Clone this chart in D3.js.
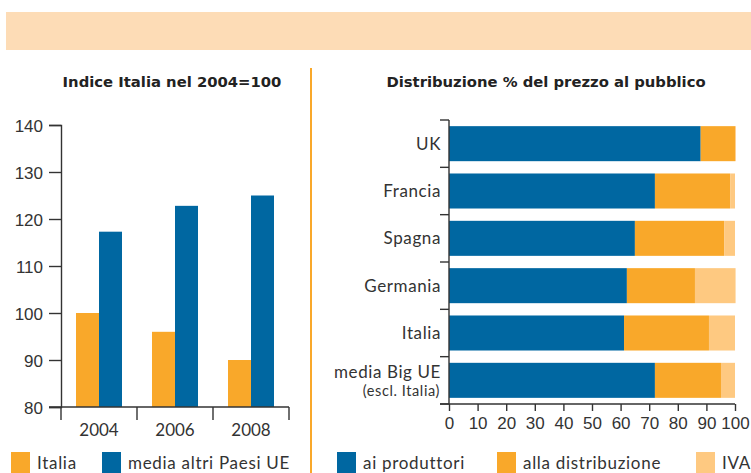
<!DOCTYPE html>
<html>
<head>
<meta charset="utf-8">
<script src="https://cdn.jsdelivr.net/npm/d3@7"></script>
<style>
  body { margin: 0; background: #fff; }
  svg { display: block; font-family: Lato, "DejaVu Sans", sans-serif; }
  .axis path, .axis line { stroke: #333; stroke-width: 1.4; }
  .axis text { fill: #333; font-size: 17px; }
  .axis text.cat { letter-spacing: 0.6px; }
  .title { font-family: "DejaVu Sans", sans-serif; font-weight: bold; font-size: 14.8px; fill: #222; text-anchor: middle; }
  .legend text { font-size: 17px; fill: #333; letter-spacing: 0.7px; }
</style>
</head>
<body>
<div id="chart"></div>
<script>
// left panel: index Italy 2004 = 100
const years = ["2004", "2006", "2008"];
const italia = [100, 96, 90];
const altriUE = [117.3, 122.8, 125];
const leftTicks = [80, 90, 100, 110, 120, 130, 140];

// right panel: price breakdown
const countries = ["UK", "Francia", "Spagna", "Germania", "Italia", "media Big UE"];
const produttori = [88, 72, 65, 62.2, 61.2, 72];
const distribuzione = [12, 26.3, 31.2, 23.8, 29.7, 23.1];
const iva = [0.3, 1.7, 3.8, 14.2, 9.1, 4.9];
const pctTicks = [0, 10, 20, 30, 40, 50, 60, 70, 80, 90, 100];

const blue = "#0067a1", orange = "#f9a82a", light = "#fec981";

const W = 751, H = 473;
const svg = d3.select("#chart").append("svg")
  .attr("width", W)
  .attr("height", H);

// header band and divider
svg.append("rect").attr("x", 6).attr("y", 12).attr("width", W - 6).attr("height", 38)
  .attr("fill", "#fddcb6");
svg.append("line").attr("x1", 311).attr("x2", 311).attr("y1", 68).attr("y2", H)
  .attr("stroke", "#f9a82a").attr("stroke-width", 2);

// ---------- left chart ----------
svg.append("text").attr("class", "title").attr("x", 172).attr("y", 87)
  .text("Indice Italia nel 2004=100");

const xL = d3.scaleBand().domain(years).range([61, 289]);
const yL = d3.scaleLinear().domain([80, 140]).range([407, 125]);
const inner = d3.scaleBand().domain(["it", "ue"]).range([0, 46]);

const left = svg.append("g");

const groups = left.selectAll(".yr")
  .data(years)
  .enter().append("g")
  .attr("transform", d => `translate(${xL(d) + xL.bandwidth() / 2 - 23},0)`);

groups.append("rect")
  .attr("x", inner("it"))
  .attr("width", inner.bandwidth())
  .attr("y", (d, i) => yL(italia[i]))
  .attr("height", (d, i) => yL(80) - yL(italia[i]))
  .attr("fill", orange);

groups.append("rect")
  .attr("x", inner("ue"))
  .attr("width", inner.bandwidth())
  .attr("y", (d, i) => yL(altriUE[i]))
  .attr("height", (d, i) => yL(80) - yL(altriUE[i]))
  .attr("fill", blue);

left.append("g").attr("class", "axis")
  .attr("transform", "translate(61,0)")
  .call(d3.axisLeft(yL).tickValues(leftTicks).tickSize(12).tickPadding(6))
  .call(g => g.selectAll("text").attr("dy", "0.36em"));

// bottom axis with ticks at band edges
const xAx = left.append("g").attr("class", "axis");
xAx.append("line").attr("x1", 49).attr("x2", xL.range()[1]).attr("y1", yL(80)).attr("y2", yL(80));
xAx.selectAll(".edge")
  .data([years[0]].concat(years))
  .enter().append("line")
  .attr("x1", (d, i) => i === 0 ? xL(d) : xL(d) + xL.bandwidth())
  .attr("x2", (d, i) => i === 0 ? xL(d) : xL(d) + xL.bandwidth())
  .attr("y1", yL(80)).attr("y2", yL(80) + 13);
xAx.selectAll(".lbl")
  .data(years)
  .enter().append("text")
  .attr("x", d => xL(d) + xL.bandwidth() / 2)
  .attr("y", yL(80) + 29)
  .attr("text-anchor", "middle")
  .text(d => d);

const legL = svg.append("g").attr("class", "legend");
[["Italia", orange, 11], ["media altri Paesi UE", blue, 102]].forEach(([t, c, x]) => {
  legL.append("rect").attr("x", x).attr("y", 452).attr("width", 19).attr("height", 21).attr("fill", c);
  legL.append("text").attr("x", x + 26).attr("y", 469).text(t);
});

// ---------- right chart ----------
svg.append("text").attr("class", "title").attr("x", 546).attr("y", 87)
  .text("Distribuzione % del prezzo al pubblico");

const xR = d3.scaleLinear().domain([0, 100]).range([449, 735]);
const yR = d3.scaleBand().domain(countries).range([120, 404]).paddingInner(0.26).paddingOuter(0.13);

const rows = countries.map((c, i) => ({ c, parts: [
  { k: "p", v0: 0, v1: produttori[i], col: blue },
  { k: "d", v0: produttori[i], v1: produttori[i] + distribuzione[i], col: orange },
  { k: "i", v0: produttori[i] + distribuzione[i], v1: produttori[i] + distribuzione[i] + iva[i], col: light }
]}));

const right = svg.append("g");
right.selectAll(".row")
  .data(rows)
  .enter().append("g")
  .selectAll("rect")
  .data(d => d.parts.map(p => Object.assign({ c: d.c }, p)))
  .enter().append("rect")
  .attr("x", d => xR(d.v0))
  .attr("width", d => xR(d.v1) - xR(d.v0))
  .attr("y", d => yR(d.c))
  .attr("height", yR.bandwidth())
  .attr("fill", d => d.col);

// y axis: ticks between categories
const yAx = right.append("g").attr("class", "axis");
const edges = d3.range(countries.length + 1).map(i => 120 + i * (404 - 120) / countries.length);
yAx.append("line").attr("x1", 449).attr("x2", 449).attr("y1", 120).attr("y2", 404);
yAx.selectAll(".edge")
  .data(edges)
  .enter().append("line")
  .attr("x1", 440).attr("x2", 449)
  .attr("y1", d => d).attr("y2", d => d);
yAx.selectAll(".lbl")
  .data(countries.slice(0, 5))
  .enter().append("text")
  .attr("class", "cat")
  .attr("x", 441)
  .attr("y", d => yR(d) + yR.bandwidth() / 2)
  .attr("dy", "0.36em")
  .attr("text-anchor", "end")
  .text(d => d);
const lastY = yR("media Big UE") + yR.bandwidth() / 2;
yAx.append("text").attr("class", "cat").attr("x", 441).attr("y", lastY - 2).attr("text-anchor", "end").text("media Big UE");
yAx.append("text").attr("class", "cat").attr("x", 440).attr("y", lastY + 16).attr("text-anchor", "end")
  .style("font-size", "14.5px").text("(escl. Italia)");

right.append("g").attr("class", "axis")
  .attr("transform", "translate(0,404)")
  .call(d3.axisBottom(xR).tickValues(pctTicks).tickSize(7).tickSizeOuter(0).tickPadding(6))
  .call(g => g.select(".domain").attr("d", "M440,0H735"));

const legR = svg.append("g").attr("class", "legend");
[["ai produttori", blue, 337], ["alla distribuzione", orange, 497], ["IVA", light, 696]].forEach(([t, c, x]) => {
  legR.append("rect").attr("x", x).attr("y", 452).attr("width", 19).attr("height", 21).attr("fill", c);
  legR.append("text").attr("x", x + 26).attr("y", 469).text(t);
});
</script>
</body>
</html>
